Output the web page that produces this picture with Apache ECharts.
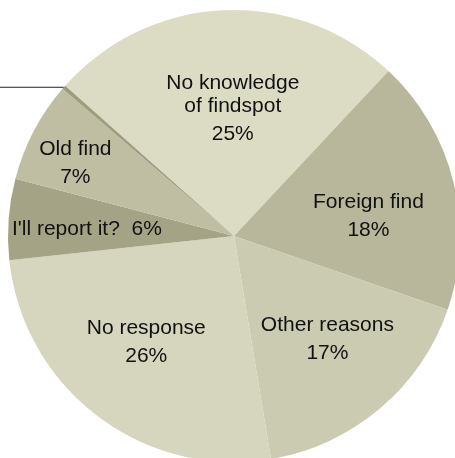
<!DOCTYPE html>
<html>
<head>
<meta charset="utf-8">
<script src="https://cdn.jsdelivr.net/npm/echarts@6/dist/echarts.min.js"></script>
<style>
html,body{margin:0;padding:0;background:#fff;}
#chart{width:455px;height:458px;}
</style>
</head>
<body>
<div id="chart"></div>
<script>
// Data (clockwise from the slice at top)
var categories = ['No knowledge\nof findspot', 'Foreign find', 'Other reasons', 'No response', "I'll report it?", 'Old find', 'Unknown'];
var values = [25.4, 18.3, 17.1, 25.9, 5.8, 7.2, 0.3];
var colors = ['#dcdcc4', '#b8b79b', '#cbcbb1', '#d5d6bd', '#a4a385', '#bfbea3', '#9f9d80'];

var fontFamily = '"Liberation Sans", Arial, Helvetica, sans-serif';

// label nudges (style only)
var labelOffsets = {
  'No knowledge\nof findspot': [5, 14],
  'Foreign find': [0, 16],
  'Old find': [-36, -6],
  "I'll report it?": [-9, 3],
  'No response': [-4, -2],
  'Other reasons': [4, 0]
};

var baseData = categories.map(function (c, i) {
  var item = { name: c, value: values[i], itemStyle: { color: colors[i] } };
  if (i === categories.length - 1) {
    item.label = { show: true, position: 'outside', color: '#111', fontSize: 21, fontFamily: fontFamily, formatter: '{b}' };
    item.labelLine = { show: true, length: 0, length2: 90, lineStyle: { color: '#222', width: 1 } };
  }
  return item;
});

var labelData = categories.map(function (c, i) {
  var item = { name: c, value: values[i] };
  if (i === categories.length - 1) item.label = { show: false };
  if (labelOffsets[c]) item.label = { offset: labelOffsets[c] };
  return item;
});

var chart = echarts.init(document.getElementById('chart'), null, { renderer: 'canvas' });
chart.setOption({
  animation: false,
  backgroundColor: '#fff',
  series: [
    {
      type: 'pie',
      center: [234, 236],
      radius: [0, 226],
      startAngle: 138.3,
      clockwise: true,
      avoidLabelOverlap: false,
      silent: true,
      itemStyle: { borderWidth: 0 },
      label: { show: false },
      labelLine: { show: false },
      data: baseData
    },
    {
      type: 'pie',
      center: [234, 236],
      radius: [45, 226],
      startAngle: 138.3,
      clockwise: true,
      avoidLabelOverlap: false,
      silent: true,
      itemStyle: { color: 'rgba(0,0,0,0)', borderWidth: 0 },
      label: {
        show: true,
        position: 'inside',
        color: '#111',
        fontFamily: fontFamily,
        fontSize: 21,
        formatter: function (p) {
          var pct = Math.round(p.percent) + '%';
          if (p.name === "I'll report it?") return '{n|' + p.name + '  ' + pct + '}';
          var lines = p.name.split('\n').map(function (l) { return '{n|' + l + '}'; });
          return lines.join('\n') + '\n{p|' + pct + '}';
        },
        rich: {
          n: { fontSize: 21, fontFamily: fontFamily, color: '#111', lineHeight: 23 },
          p: { fontSize: 21, fontFamily: fontFamily, color: '#111', lineHeight: 33 }
        }
      },
      labelLine: { show: false },
      data: labelData
    }
  ]
});
</script>
</body>
</html>
